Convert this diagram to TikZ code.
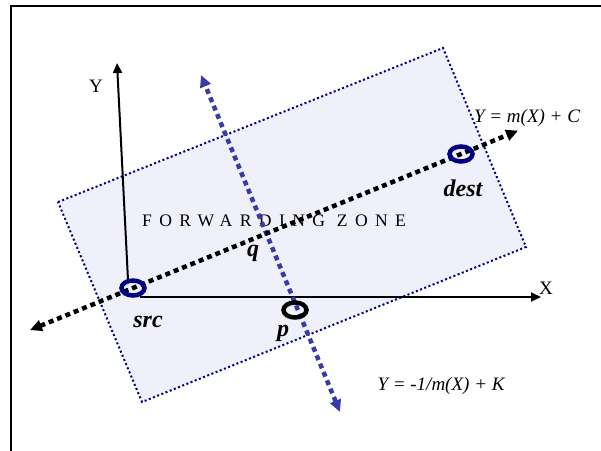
\documentclass[tikz,border=0pt]{standalone}
\usepackage{fontspec}
\setmainfont{Liberation Serif}
\newfontfamily\zonefont[LetterSpace=42]{Liberation Serif}
\usetikzlibrary{arrows.meta, shapes.geometric, calc}
\definecolor{cnavy}{HTML}{000080}
\definecolor{cblue}{HTML}{3A3AA6}
\definecolor{czone}{HTML}{F0F0FA}
\tikzset{
  every picture/.style={x=1pt, y=-1pt},
  ring/.style={draw=#1, ellipse, line width=4.5pt, minimum width=23pt, minimum height=15pt, inner sep=0pt},
  ring/.default=cnavy,
  zonebox/.style={draw=cnavy, fill=czone, line width=2pt, dash pattern=on 2pt off 2.5pt},
  route/.style={draw=#1, line width=4.5pt, dash pattern=on 5pt off 4pt,
    {Triangle[length=12pt, width=11pt]}-{Triangle[length=12pt, width=11pt]}},
  route/.default=black,
  axis/.style={-{Triangle[length=10pt, width=9pt]}, line width=2pt},
  lbl/.style={font=\fontsize{24}{26}\selectfont\bfseries\itshape, inner sep=0pt},
  eqn/.style={font=\fontsize{19}{22}\selectfont\itshape, inner sep=0pt},
  axlbl/.style={font=\fontsize{19}{22}\selectfont, inner sep=0pt},
}
\begin{document}
\begin{tikzpicture}
  \useasboundingbox (0,0) rectangle (601,450);
  \draw[line width=2pt] (11,452) -- (11,6) -- (603,6);
  % forwarding zone
  \filldraw[zonebox] (58,202) -- (443,48) -- (526,247) -- (142,402) -- cycle;
  \node[anchor=west, inner sep=0pt] (zone) at (142,221) {\zonefont\fontsize{17.6}{20}\selectfont FORWARDING ZONE};
  % axes
  \coordinate (yfoot) at (128,280);
  \coordinate (ytip) at (117,63);
  \coordinate (xfoot) at (140,297);
  \coordinate (xtip) at (541,297);
  \draw[axis] (yfoot) -- (ytip);
  \draw[axis] (xfoot) -- (xtip);
  \node[axlbl] (ylbl) at (96,86) {Y};
  \node[axlbl] (xlbl) at (546,288) {X};
  % perpendicular line
  \coordinate (nbot) at (340,412);
  \coordinate (ntop) at (201,75);
  \draw[route=cblue] (nbot) -- (ntop);
  % line through src and dest
  \coordinate (src0) at (133,288);
  \coordinate (dest0) at (461,154);
  \coordinate (tipl) at ($(src0)!-0.314!(dest0)$);
  \coordinate (tipr) at ($(src0)!1.174!(dest0)$);
  \draw[route] (tipl) -- (tipr);
  \node[ring] (src) at (src0) {};
  \node[ring] (dest) at (dest0) {};
  \node[ring=black] (p) at (295,310) {};
  \node[lbl] (lsrc) at (148,322) {src};
  \node[lbl] (ldest) at (463,188) {dest};
  \node[lbl] (lp) at (283,333) {p};
  \node[lbl] (lq) at (253,253) {q};
  \node[eqn] (eqm) at (527,118) {Y = m(X) + C};
  \node[eqn] (eqk) at (441,386) {Y = -1/m(X) + K};
\end{tikzpicture}
\end{document}
